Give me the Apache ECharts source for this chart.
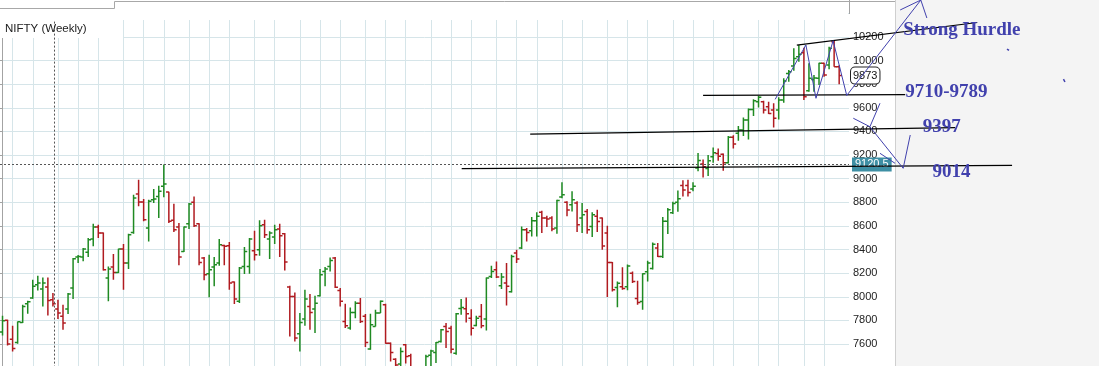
<!DOCTYPE html>
<html>
<head>
<meta charset="utf-8">
<title>NIFTY (Weekly)</title>
<script src="https://cdn.jsdelivr.net/npm/echarts@6/dist/echarts.min.js"></script>
<style>
  html, body { margin: 0; padding: 0; background: #ffffff; }
  #chart { width: 1099px; height: 366px; }
</style>
</head>
<body>
<div id="chart"></div>
<script>
// ---- weekly NIFTY bars (week index 0 = week starting 2014-07-21) ----
const firstWeek = '2014-07-21';

const opens = [
  7701, 7800, 7641, 7613, 7783, 7941, 7989, 8102, 8065, 8082,
  7975, 7896, 7834, 7896, 8074, 8336, 8336, 8376, 8489, 8591,
  8540, 8158, 8252, 8206, 8404, 8286, 8545, 8870, 8802, 8582,
  8822, 8850, 8935, 8887, 8647, 8591, 8384, 8619, 8800, 8619,
  8328, 8195, 8252, 8286, 8435, 8432, 8124, 7961, 8257, 8257,
  8390, 8398, 8610, 8489, 8506, 8574, 8534, 8082, 8003, 7687,
  7811, 7918, 7896, 8009, 8215, 8257, 8328, 8054, 7791, 7735,
  7867, 7946, 7834, 7557, 7749, 7862, 7932, 7607, 7470, 7430,
  7593, 7500, 7045, 7232, 6987, 7505, 7528, 7621, 7749, 7734,
  7522, 7900, 7898, 7819, 7757, 7833, 7811, 8172, 8229, 8093,
  8116, 8042, 8370, 8412, 8568, 8559, 8644, 8715, 8667, 8667,
  8582, 8845, 8800, 8780, 8794, 8667, 8723, 8596, 8681, 8667,
  8540, 8291, 8079, 8085, 8085, 8200, 7985, 7960, 8212, 8240,
  8412, 8342, 8640, 8712, 8800, 8943, 8943, 8912, 9090, 9124,
  9087, 9186, 9214, 9208, 9135, 9350, 9384, 9412, 9497, 9587,
  9652, 9652, 9610, 9581, 9581, 9666, 9892, 9954, 10033, 10067,
  9745, 9840, 9850, 9977, 9963, 10160, 9949
];
const highs = [
  7839, 7805, 7754, 7791, 7932, 7966, 8144, 8178, 8164, 8164,
  8031, 7975, 7932, 8031, 8328, 8353, 8413, 8497, 8619, 8610,
  8545, 8257, 8362, 8407, 8447, 8534, 8865, 8992, 8828, 8822,
  8913, 8941, 9120.5, 8890, 8788, 8625, 8596, 8794, 8850, 8622,
  8336, 8356, 8336, 8489, 8441, 8463, 8130, 8252, 8421, 8497,
  8560, 8647, 8653, 8554, 8610, 8619, 8540, 8093, 8037, 7862,
  8060, 8023, 8009, 8235, 8252, 8333, 8336, 8074, 7941, 7910,
  7961, 7989, 7853, 7856, 7890, 7969, 7941, 7612, 7480, 7571,
  7599, 7517, 7250, 7235, 7508, 7551, 7616, 7726, 7777, 7754,
  7862, 7980, 7994, 7895, 7839, 7938, 8164, 8263, 8299, 8201,
  8285, 8356, 8398, 8596, 8582, 8675, 8715, 8729, 8686, 8681,
  8822, 8969, 8810, 8893, 8808, 8794, 8743, 8715, 8737, 8672,
  8602, 8294, 8130, 8250, 8274, 8215, 8136, 8200, 8305, 8460,
  8455, 8675, 8751, 8805, 8900, 8986, 8991, 8969, 9218, 9163,
  9200, 9265, 9256, 9214, 9361, 9369, 9446, 9519, 9595, 9672,
  9700, 9660, 9652, 9638, 9689, 9850, 9920, 10104, 10132, 10110,
  9977, 9878, 9983, 9983, 10118, 10169, 9960
];
const lows = [
  7672, 7588, 7537, 7602, 7777, 7856, 7983, 8054, 7918, 7842,
  7918, 7811, 7721, 7853, 7980, 8286, 8300, 8336, 8427, 8497,
  8223, 7961, 8144, 8201, 8060, 8235, 8534, 8766, 8639, 8469,
  8794, 8667, 8842, 8625, 8548, 8266, 8379, 8574, 8591, 8266,
  8139, 7995, 8088, 8263, 8266, 8060, 7938, 7947, 8192, 8195,
  8308, 8348, 8497, 8319, 8447, 8336, 8223, 7664, 7622, 7537,
  7754, 7721, 7692, 8003, 8088, 8215, 8074, 7918, 7735, 7721,
  7819, 7777, 7574, 7551, 7749, 7862, 7602, 7452, 7241, 7390,
  7435, 6869, 7030, 6970, 6825, 7405, 7440, 7613, 7565, 7522,
  7508, 7847, 7782, 7672, 7750, 7734, 7715, 8158, 8158, 8065,
  7926, 8037, 8285, 8404, 8469, 8511, 8511, 8539, 8590, 8554,
  8534, 8835, 8681, 8723, 8548, 8540, 8534, 8506, 8548, 8398,
  7997, 8045, 7912, 8060, 8056, 8116, 7932, 7890, 8130, 8230,
  8336, 8328, 8531, 8700, 8720, 8850, 8850, 8893, 9062, 9011,
  9022, 9135, 9152, 9067, 9129, 9256, 9321, 9361, 9333, 9530,
  9604, 9553, 9547, 9434, 9502, 9643, 9821, 9915, 9991, 9666,
  9737, 9737, 9793, 9864, 9926, 9949, 9800
];
const closes = [
  7797, 7599, 7562, 7788, 7918, 7958, 8088, 8116, 8116, 7969,
  7941, 7862, 7777, 8023, 8322, 8342, 8404, 8483, 8591, 8540,
  8229, 8235, 8206, 8404, 8286, 8526, 8836, 8802, 8653, 8808,
  8828, 8893, 8955, 8639, 8568, 8336, 8591, 8786, 8602, 8291,
  8187, 8229, 8271, 8441, 8427, 8116, 7980, 8243, 8384, 8489,
  8356, 8602, 8526, 8540, 8568, 8517, 8294, 8003, 7650, 7783,
  7980, 7867, 7946, 8187, 8235, 8308, 8080, 7961, 7754, 7867,
  7946, 7791, 7613, 7763, 7862, 7961, 7607, 7528, 7422, 7537,
  7494, 6981, 7211, 7029, 7494, 7540, 7613, 7720, 7706, 7556,
  7856, 7910, 7856, 7734, 7819, 7754, 8158, 8215, 8167, 8167,
  8088, 8342, 8319, 8568, 8545, 8644, 8681, 8667, 8658, 8573,
  8816, 8864, 8735, 8822, 8610, 8695, 8568, 8695, 8638, 8430,
  8290, 8059, 8114, 8070, 8261, 8130, 7952, 8195, 8285, 8445,
  8342, 8640, 8737, 8790, 8830, 8905, 8884, 8935, 9155, 9101,
  9152, 9220, 9191, 9135, 9350, 9293, 9412, 9497, 9587, 9660,
  9689, 9581, 9553, 9511, 9666, 9827, 9906, 10019, 10053, 9694,
  9850, 9852, 9977, 9878, 10104, 9949, 9873
];

// price axis ticks
const priceTicks = { min: 7400, max: 10400, step: 200 };

// cursor read-out
const crosshair = { week: 10.2, price: 9120.5 };

// hand-drawn trend lines, as [week index, price]
const hurdleLine   = [[157.6, 10132], [193.4, 10323]];
const supportBand  = [[139.0, 9706], [179.1, 9712]];
const level9397    = [[104.7, 9378], [189.0, 9432]];
const level9014    = [[91.1, 9086], [200.3, 9112]];
const swingPath    = [[153.3, 9672], [159.4, 10132], [161.4, 9681], [164.8, 10169], [167.5, 9705], [182.2, 10513]];
const arrowHead    = [[178.1, 10429], [182.2, 10513], [183.4, 10361]];
const bounce9397   = [[168.8, 9512], [172.1, 9440], [174.1, 9639]];
const bounce9014   = [[172.1, 9440], [178.7, 9088], [180.1, 9370]];
const dropStroke   = [[174.1, 9215], [177.1, 9130]];
const penDot1      = [[199.3, 10098], [199.7, 10086]];
const penDot2      = [[210.5, 9844], [210.8, 9819]];
const noteTexts = [
  { name: 'Strong Hurdle', value: [178.7, 10259] },
  { name: '9710-9789',     value: [179.1, 9734] },
  { name: '9397',          value: [182.6, 9433] },
  { name: '9014',          value: [184.5, 9057] }
];

// ---- derived tables ----
const weeks = [];
const monthStarts = [];
{
  const d0 = new Date(firstWeek + 'T00:00:00Z');
  let prevMonth = null;
  for (let i = 0; i < opens.length; i++) {
    const d = new Date(d0.getTime() + i * 7 * 86400000);
    weeks.push(d.toISOString().slice(0, 10));
    const m = d.getUTCMonth();
    if (prevMonth !== null && m !== prevMonth) monthStarts.push(i);
    prevMonth = m;
  }
}
const ohlcRows = opens.map((o, i) => [i, o, highs[i], lows[i], closes[i]]);
const lastClose = closes[closes.length - 1];

// ---- layout ----
const PANE_W = 849, FULL_W = 1099;
const SLOT_SPAN = 168.45;
const X_MIN = -0.5;
const X_MAX_MAIN = X_MIN + SLOT_SPAN;
const X_MAX_OVER = X_MIN + SLOT_SPAN * FULL_W / PANE_W;
const GRID_TOP = 13.4, GRID_H = 354.2;

const UP = '#1f8a22', DOWN = '#b01b20';
const GRID_COLOR = '#d6e5e9';
const NOTE_BLUE = '#4141ad';
const SANS = "'Liberation Sans', Arial, sans-serif";
const SERIF = "'Liberation Serif', 'Times New Roman', serif";

function annotation(name, pts, color, width) {
  return {
    name, type: 'line', xAxisIndex: 1, yAxisIndex: 1,
    data: pts, symbol: 'none', showSymbol: false, clip: false,
    silent: true, animation: false, z: 6,
    lineStyle: { color, width, opacity: 1 }
  };
}

const chart = echarts.init(document.getElementById('chart'));

chart.setOption({
  animation: false,
  backgroundColor: '#ffffff',
  grid: [
    { left: 0, top: GRID_TOP, width: PANE_W, height: GRID_H, containLabel: false, outerBoundsMode: 'none' },
    { left: 0, top: GRID_TOP, width: FULL_W, height: GRID_H, containLabel: false, outerBoundsMode: 'none' }
  ],
  xAxis: [
    { type: 'value', gridIndex: 0, min: X_MIN, max: X_MAX_MAIN, show: false },
    { type: 'value', gridIndex: 1, min: X_MIN, max: X_MAX_OVER, show: false }
  ],
  yAxis: [
    {
      type: 'value', gridIndex: 0, position: 'right',
      min: priceTicks.min, max: priceTicks.max, interval: priceTicks.step,
      axisLine: { show: true, lineStyle: { color: '#a3a3a3', width: 1 } },
      axisTick: { show: true, inside: true, length: 3, lineStyle: { color: '#a3a3a3' } },
      axisLabel: { margin: 4, color: '#222', fontSize: 11, fontFamily: SANS,
        showMaxLabel: false, showMinLabel: false,
        formatter: v => String(v) },
      splitLine: { show: true, lineStyle: { color: GRID_COLOR, width: 1 } }
    },
    { type: 'value', gridIndex: 1, min: priceTicks.min, max: priceTicks.max, show: false }
  ],
  series: [
    {
      name: 'months', type: 'line', xAxisIndex: 0, yAxisIndex: 0, data: [],
      silent: true,
      markLine: {
        z: 1, silent: true, symbol: ['none', 'none'], animation: false,
        label: { show: false },
        lineStyle: { color: GRID_COLOR, width: 1, type: 'solid' },
        data: monthStarts.map(i => ({ xAxis: i }))
      }
    },
    {
      name: 'NIFTY', type: 'custom', xAxisIndex: 0, yAxisIndex: 0, z: 3,
      clip: true, silent: true,
      encode: { x: 0, y: [1, 2, 3, 4] },
      data: ohlcRows,
      renderItem: function (params, api) {
        const x = api.value(0);
        const o = api.coord([x, api.value(1)]);
        const h = api.coord([x, api.value(2)]);
        const l = api.coord([x, api.value(3)]);
        const c = api.coord([x, api.value(4)]);
        const color = api.value(4) >= api.value(1) ? UP : DOWN;
        const tick = 2.8;
        const st = { stroke: color, lineWidth: 1.5 };
        return {
          type: 'group',
          children: [
            { type: 'line', shape: { x1: h[0], y1: h[1], x2: l[0], y2: l[1] }, style: st },
            { type: 'line', shape: { x1: o[0] - tick, y1: o[1], x2: o[0], y2: o[1] }, style: st },
            { type: 'line', shape: { x1: c[0], y1: c[1], x2: c[0] + tick, y2: c[1] }, style: st }
          ]
        };
      }
    },
    {
      name: 'cursor', type: 'line', xAxisIndex: 0, yAxisIndex: 0, data: [],
      silent: true,
      markLine: {
        z: 5, silent: true, symbol: ['none', 'none'], animation: false,
        data: [
          { xAxis: crosshair.week, label: { show: false },
            lineStyle: { color: '#555', width: 1, type: [2, 2] } },
          { yAxis: crosshair.price,
            lineStyle: { color: '#555', width: 1, type: [2, 2] },
            label: { show: true, position: 'end', distance: 3, formatter: String(crosshair.price),
              backgroundColor: '#3e8fa4', color: '#ffffff', fontSize: 11, fontFamily: SANS,
              padding: [2, 3, 1, 3] } },
          { yAxis: lastClose,
            lineStyle: { color: 'rgba(0,0,0,0)', width: 0 },
            label: { show: true, position: 'end', distance: 2, formatter: String(lastClose),
              backgroundColor: '#ffffff', borderColor: '#222', borderWidth: 1, borderRadius: 4,
              color: '#111', fontSize: 11, fontFamily: SANS, padding: [3, 2, 2, 2] } }
        ]
      }
    },
    annotation('hurdle', hurdleLine, '#000', 1.2),
    annotation('support', supportBand, '#000', 1.2),
    annotation('level9397', level9397, '#000', 1.2),
    annotation('level9014', level9014, '#000', 1.2),
    annotation('swing', swingPath, NOTE_BLUE, 1),
    annotation('arrow', arrowHead, NOTE_BLUE, 1),
    annotation('bounceA', bounce9397, NOTE_BLUE, 1),
    annotation('bounceB', bounce9014, NOTE_BLUE, 1),
    annotation('stroke', dropStroke, NOTE_BLUE, 1),
    annotation('dot1', penDot1, NOTE_BLUE, 1.5),
    annotation('dot2', penDot2, NOTE_BLUE, 1.5),
    {
      name: 'notes', type: 'scatter', xAxisIndex: 1, yAxisIndex: 1,
      data: noteTexts, symbolSize: 0, clip: false, silent: true, z: 7,
      itemStyle: { opacity: 1 },
      label: {
        show: true, position: 'right', distance: 0,
        formatter: p => p.name,
        color: NOTE_BLUE, opacity: 1, fontFamily: SERIF, fontWeight: 'bold', fontSize: 19
      }
    }
  ],
  graphic: [
    { type: 'rect', z: 0, silent: true, shape: { x: 895, y: 0, width: 204, height: 366 },
      style: { fill: '#f4f4f4' } },
    { type: 'line', z: 0, silent: true, shape: { x1: 895.5, y1: 0, x2: 895.5, y2: 366 },
      style: { stroke: '#cfcfcf', lineWidth: 1 } },
    { type: 'rect', z: 10, silent: true, shape: { x: 0, y: 0, width: 848, height: 20 },
      style: { fill: '#ffffff' } },
    { type: 'line', z: 11, silent: true, shape: { x1: 849.5, y1: 0, x2: 849.5, y2: 14 },
      style: { stroke: '#a3a3a3', lineWidth: 1 } },
    { type: 'polyline', z: 11, silent: true,
      shape: { points: [[0, 8.5], [114.5, 8.5], [114.5, 1.5], [895, 1.5]] },
      style: { stroke: '#a8a8a8', lineWidth: 1, fill: null } },
    { type: 'rect', z: 4, silent: true, shape: { x: 0, y: 20, width: 123, height: 18 },
      style: { fill: '#ffffff' } },
    { type: 'text', z: 11, silent: true, x: 5, y: 29,
      style: { text: 'NIFTY (Weekly)', fill: '#222', font: "11.5px 'Liberation Sans', Arial, sans-serif",
        verticalAlign: 'middle' } }
  ]
});
</script>
</body>
</html>
